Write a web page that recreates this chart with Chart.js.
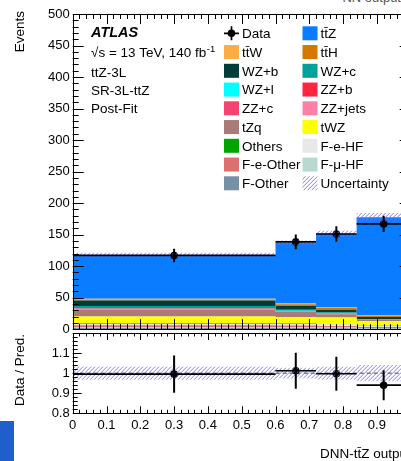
<!DOCTYPE html>
<html>
<head>
<meta charset="utf-8">
<title>DNN-tt̄Z output</title>
<script src="https://cdn.jsdelivr.net/npm/chart.js@4.4.1/dist/chart.umd.min.js"></script>
<style>
  html, body { margin: 0; padding: 0; background: #fff; }
  #page { position: relative; width: 401px; height: 461px; overflow: hidden; }
  canvas { position: absolute; left: 0; }
  #mainChart { top: 0; }
  #ratioChart { top: 320px; }
  #tab { position: absolute; left: 0; top: 421px; width: 14px; height: 40px; background: #1f5fcc; }
  #caption { position: absolute; right: 0; top: -10px; font: 13px "Liberation Sans", Arial, sans-serif; color: #555; white-space: nowrap; }
</style>
</head>
<body>
<div id="page">
  <div id="caption">NN output</div>
  <canvas id="mainChart" width="430" height="340"></canvas>
  <canvas id="ratioChart" width="430" height="141"></canvas>
  <div id="tab"></div>
</div>
<script>
// Binning of the DNN output
const binEdges = [0, 0.6, 0.72, 0.84, 1.0];
const binCenters = [0.3, 0.66, 0.78, 0.92];

// Post-fit yields per bin (stacked bottom to top)
const fOther   = [1.8, 1.8, 1.6, 1.0];
const fMuHF    = [1.5, 1.4, 1.2, 0.9];
const fEOther  = [3.0, 2.5, 2.2, 1.4];
const fEHF     = [2.5, 2.6, 2.3, 1.5];
const others   = [1.0, 0.7, 0.6, 0.5];
const tWZ      = [10.4, 10.5, 10.5, 7.9];
const tZq      = [10.1, 7.9, 5.2, 1.5];
const zzJets   = [0.6, 0.3, 0.3, 0.2];
const zzC      = [0.9, 0.6, 0.4, 0.2];
const zzB      = [1.2, 0.6, 0.4, 0.2];
const wzL      = [0.4, 0.3, 0.2, 0.1];
const wzC      = [3.4, 1.8, 1.4, 0.3];
const wzB      = [8.8, 5.8, 4.7, 3.8];
const ttH      = [1.6, 2.6, 2.6, 1.9];
const ttW      = [1.1, 1.5, 1.6, 1.2];
const ttZ      = [69.2, 96.1, 116.3, 154.9];

// Observed events and uncertainties
const dataEvents = [117, 138.5, 151, 167];
const dataErr    = [10.8, 11.8, 12.3, 12.9];
const predErr    = [3.9, 3.6, 4.8, 7.0];

// Ratio panel
const ratioVals = [0.995, 1.012, 0.997, 0.94];
const ratioErr  = [0.093, 0.09, 0.085, 0.075];
const ratioUnc  = [0.033, 0.027, 0.032, 0.04];

// Legend layout (two columns, row by row)
const legendLeft  = ['Data', 'tt̄W', 'WZ+b', 'WZ+l', 'ZZ+c', 'tZq', 'Others', 'F-e-Other', 'F-Other'];
const legendRight = ['tt̄Z', 'tt̄H', 'WZ+c', 'ZZ+b', 'ZZ+jets', 'tWZ', 'F-e-HF', 'F-μ-HF', 'Uncertainty'];
const labelLines  = ['ttZ-3L', 'SR-3L-ttZ', 'Post-Fit'];

const colors = {
    'F-Other': '#7890a6',
    'F-μ-HF': '#b8d8d0',
    'F-e-Other': '#dc7070',
    'F-e-HF': '#e8e8e8',
    'Others': '#00a400',
    'tWZ': '#ffff00',
    'tZq': '#aa7a78',
    'ZZ+jets': '#ff80a6',
    'ZZ+c': '#f54473',
    'ZZ+b': '#ff2541',
    'WZ+l': '#00ffff',
    'WZ+c': '#00a09c',
    'WZ+b': '#003c3a',
    'tt̄H': '#d57800',
    'tt̄W': '#fcac45',
    'tt̄Z': '#0a7cff'
};
const hatchColor = '#6f6fff';

const stack = [
    ['F-Other', fOther], ['F-μ-HF', fMuHF], ['F-e-Other', fEOther], ['F-e-HF', fEHF],
    ['Others', others], ['tWZ', tWZ], ['tZq', tZq], ['ZZ+jets', zzJets], ['ZZ+c', zzC],
    ['ZZ+b', zzB], ['WZ+l', wzL], ['WZ+c', wzC], ['WZ+b', wzB], ['tt̄H', ttH],
    ['tt̄W', ttW], ['tt̄Z', ttZ]
];

const FONT = '"Liberation Sans", Arial, Helvetica, sans-serif';
Chart.defaults.font.family = FONT;
Chart.defaults.font.size = 13;
Chart.defaults.color = '#000';
Chart.defaults.animation = false;

// Histogram as step points: one point per left bin edge plus the closing edge
function steps(vals) {
    const pts = vals.map((v, i) => ({ x: binEdges[i], y: v }));
    pts.push({ x: binEdges[vals.length], y: vals[vals.length - 1] });
    return pts;
}

const total = binCenters.map((_, i) => stack.reduce((s, p) => s + p[1][i], 0));

const none = 'rgba(0,0,0,0)';
const stepStyle = { stepped: 'before', pointRadius: 0, borderWidth: 0, borderColor: none };

// Hatched "////" uncertainty band, one box per bin
const hatchBand = {
    id: 'hatchBand',
    afterDatasetsDraw(chart, args, o) {
        const { ctx, chartArea: a } = chart;
        const xs = chart.scales.x, ys = chart.scales[o.axis];
        ctx.save();
        ctx.beginPath();
        ctx.rect(a.left, a.top, a.right - a.left, a.bottom - a.top);
        ctx.clip();
        ctx.beginPath();
        o.lo.forEach((lo, i) => {
            const x0 = xs.getPixelForValue(binEdges[i]);
            const x1 = xs.getPixelForValue(binEdges[i + 1]);
            const y0 = ys.getPixelForValue(o.hi[i]);
            const y1 = ys.getPixelForValue(lo);
            ctx.rect(x0, y0, x1 - x0, y1 - y0);
        });
        ctx.clip();
        ctx.strokeStyle = hatchColor;
        ctx.lineWidth = 0.9;
        ctx.beginPath();
        const h = a.bottom - a.top;
        for (let x = a.left - h; x <= a.right; x += 4) {
            ctx.moveTo(x, a.bottom); ctx.lineTo(x + h, a.top);
        }
        ctx.stroke();
        ctx.restore();
    }
};

// Frame with inward ticks on all four sides
const rootFrame = {
    id: 'rootFrame',
    afterDatasetsDraw(chart, args, o) {
        const { ctx, chartArea: a } = chart;
        const xs = chart.scales.x, ys = chart.scales.y;
        ctx.save();
        ctx.strokeStyle = '#000';
        ctx.lineWidth = 1;
        ctx.strokeRect(Math.round(a.left) + 0.5, Math.round(a.top) + 0.5,
            Math.round(a.right - a.left), Math.round(a.bottom - a.top));
        ctx.beginPath();
        for (let i = 0; i <= 50; i++) {
            const px = Math.round(xs.getPixelForValue(i * 0.02)) + 0.5;
            const len = i % 5 ? o.xMinor : o.xMajor;
            ctx.moveTo(px, a.bottom); ctx.lineTo(px, a.bottom - len);
            ctx.moveTo(px, a.top); ctx.lineTo(px, a.top + len);
        }
        const n = Math.round((ys.max - ys.min) / o.yStep);
        for (let i = 0; i <= n; i++) {
            const py = Math.round(ys.getPixelForValue(ys.min + i * o.yStep)) + 0.5;
            const len = i % 5 ? o.yMinor : o.yMajor;
            ctx.moveTo(a.left, py); ctx.lineTo(a.left + len, py);
            ctx.moveTo(a.right, py); ctx.lineTo(a.right - len, py);
        }
        ctx.stroke();
        ctx.restore();
    }
};

// Data error bars: full bin width horizontally, stat error vertically
const errorBars = {
    id: 'errorBars',
    afterDatasetsDraw(chart, args, o) {
        const { ctx, chartArea: a } = chart;
        const xs = chart.scales.x, ys = chart.scales[o.axis];
        ctx.save();
        ctx.beginPath();
        ctx.rect(a.left, a.top, a.right - a.left, a.bottom - a.top);
        ctx.clip();
        ctx.strokeStyle = '#000';
        o.values.forEach((v, i) => {
            const cx = xs.getPixelForValue(binCenters[i]);
            const cy = ys.getPixelForValue(v);
            ctx.lineWidth = 1.7;
            ctx.beginPath();
            ctx.moveTo(xs.getPixelForValue(binEdges[i]), cy);
            ctx.lineTo(xs.getPixelForValue(binEdges[i + 1]), cy);
            ctx.stroke();
            ctx.lineWidth = 2;
            ctx.beginPath();
            ctx.moveTo(cx, ys.getPixelForValue(v - o.errors[i]));
            ctx.lineTo(cx, ys.getPixelForValue(v + o.errors[i]));
            ctx.stroke();
        });
        ctx.restore();
    }
};

function rotatedTitle(ctx, text, x, yTop) {
    ctx.save();
    ctx.translate(x, yTop);
    ctx.rotate(-Math.PI / 2);
    ctx.textAlign = 'right';
    ctx.textBaseline = 'middle';
    ctx.fillText(text, 0, 0);
    ctx.restore();
}

// ATLAS label block and legend
const annotations = {
    id: 'annotations',
    afterDraw(chart) {
        const ctx = chart.ctx;
        ctx.save();
        ctx.fillStyle = '#000';
        ctx.font = '13.5px ' + FONT;
        rotatedTitle(ctx, 'Events', 20, 11);

        ctx.textBaseline = 'alphabetic';
        ctx.textAlign = 'left';
        ctx.font = 'italic bold 14.5px ' + FONT;
        ctx.fillText('ATLAS', 91, 37.3);
        ctx.font = '13.5px ' + FONT;
        const energy = '√s = 13 TeV, 140 fb';
        ctx.fillText(energy, 91, 56.8);
        const w = ctx.measureText(energy).width;
        ctx.font = '9.5px ' + FONT;
        ctx.fillText('-1', 91 + w + 0.5, 51.5);
        ctx.font = '13.5px ' + FONT;
        labelLines.forEach((t, i) => ctx.fillText(t, 91, 76.8 + i * 18));

        const rowY = r => 33.3 + r * 18.75;
        const drawEntry = (name, x, y) => {
            if (name === 'Data') {
                ctx.strokeStyle = '#000';
                ctx.lineWidth = 1.7;
                ctx.beginPath();
                ctx.moveTo(x, y); ctx.lineTo(x + 15, y);
                ctx.moveTo(x + 7.5, y - 7); ctx.lineTo(x + 7.5, y + 7);
                ctx.stroke();
                ctx.beginPath();
                ctx.arc(x + 7.5, y, 3.8, 0, Math.PI * 2);
                ctx.fill();
            } else if (name === 'Uncertainty') {
                ctx.save();
                ctx.beginPath();
                ctx.rect(x, y - 7, 15, 14);
                ctx.clip();
                ctx.strokeStyle = hatchColor;
                ctx.lineWidth = 0.9;
                ctx.beginPath();
                for (let k = -16; k <= 16; k += 4) {
                    ctx.moveTo(x + k, y + 8); ctx.lineTo(x + k + 16, y - 8);
                }
                ctx.stroke();
                ctx.restore();
            } else {
                ctx.fillStyle = colors[name];
                ctx.fillRect(x, y - 7, 15, 14);
                ctx.fillStyle = '#000';
            }
            ctx.fillText(name, x + 18, y + 4.8);
        };
        legendLeft.forEach((n, r) => drawEntry(n, 224, rowY(r)));
        legendRight.forEach((n, r) => drawEntry(n, 302.5, rowY(r)));
        ctx.restore();
    }
};

const ratioTitles = {
    id: 'ratioTitles',
    afterDraw(chart) {
        const ctx = chart.ctx;
        ctx.save();
        ctx.fillStyle = '#000';
        ctx.font = '13.5px ' + FONT;
        rotatedTitle(ctx, 'Data / Pred.', 20, 14);
        ctx.textAlign = 'right';
        ctx.textBaseline = 'alphabetic';
        ctx.fillText('DNN-tt̄Z output', chart.chartArea.right, 137.8);
        ctx.restore();
    }
};

const yAxisStyle = {
    grid: { display: false, drawTicks: false },
    border: { display: false },
    afterFit: s => { s.width = 72.7; }
};

// Upper panel: stacked prediction, uncertainty band and data
new Chart(document.getElementById('mainChart'), {
    type: 'line',
    data: {
        datasets: [
            {
                label: 'Data',
                data: binCenters.map((x, i) => ({ x, y: dataEvents[i] })),
                yAxisID: 'yb', showLine: false,
                pointRadius: 3.8, pointBackgroundColor: '#000', pointBorderWidth: 0
            },
            ...stack.map(([name, vals], k) => ({
                label: name,
                data: steps(vals),
                yAxisID: 'y',
                fill: k === 0 ? 'origin' : '-1',
                backgroundColor: colors[name],
                ...stepStyle
            }))
        ]
    },
    options: {
        responsive: false,
        events: [],
        layout: { padding: { top: 14, right: 19.3, bottom: 8.3, left: 0 } },
        plugins: {
            legend: { display: false },
            tooltip: { enabled: false },
            hatchBand: {
                axis: 'yb',
                lo: total.map((t, i) => t - predErr[i]),
                hi: total.map((t, i) => t + predErr[i])
            },
            rootFrame: { xMajor: 10, xMinor: 5, yMajor: 11, yMinor: 6, yStep: 10 },
            errorBars: { axis: 'yb', values: dataEvents, errors: dataErr }
        },
        scales: {
            x: { type: 'linear', min: 0, max: 1, display: false },
            y: { type: 'linear', stacked: true, min: 0, max: 500, ticks: { stepSize: 50, padding: 3 }, ...yAxisStyle },
            yb: { type: 'linear', min: 0, max: 500, display: false }
        }
    },
    plugins: [hatchBand, rootFrame, errorBars, annotations]
});

// Lower panel: data over prediction
new Chart(document.getElementById('ratioChart'), {
    type: 'line',
    data: {
        datasets: [
            {
                label: 'Data',
                data: binCenters.map((x, i) => ({ x, y: ratioVals[i] })),
                showLine: false,
                pointRadius: 3.8, pointBackgroundColor: '#000', pointBorderWidth: 0
            },
            {
                label: 'unity',
                data: [{ x: 0, y: 1 }, { x: 1, y: 1 }],
                borderColor: '#333', borderWidth: 1, borderDash: [4, 3],
                pointRadius: 0, fill: false
            }
        ]
    },
    options: {
        responsive: false,
        events: [],
        layout: { padding: { top: 13, right: 19.3, bottom: 0, left: 0 } },
        plugins: {
            legend: { display: false },
            tooltip: { enabled: false },
            hatchBand: {
                axis: 'y',
                lo: ratioUnc.map(u => 1 - u),
                hi: ratioUnc.map(u => 1 + u)
            },
            rootFrame: { xMajor: 7, xMinor: 3.5, yMajor: 9, yMinor: 5, yStep: 0.02 },
            errorBars: { axis: 'y', values: ratioVals, errors: ratioErr }
        },
        scales: {
            x: {
                type: 'linear', min: 0, max: 1,
                ticks: { stepSize: 0.1, padding: 4, maxRotation: 0, autoSkip: false, callback: v => String(+v.toFixed(2)) },
                grid: { display: false, drawTicks: false },
                border: { display: false },
                afterFit: s => { s.height = 47.7; }
            },
            y: {
                type: 'linear', min: 0.8, max: 1.2,
                ticks: { stepSize: 0.1, padding: 3, callback: v => v > 1.15 ? '' : String(+v.toFixed(2)) },
                ...yAxisStyle
            }
        }
    },
    plugins: [hatchBand, rootFrame, errorBars, ratioTitles]
});
</script>
</body>
</html>
